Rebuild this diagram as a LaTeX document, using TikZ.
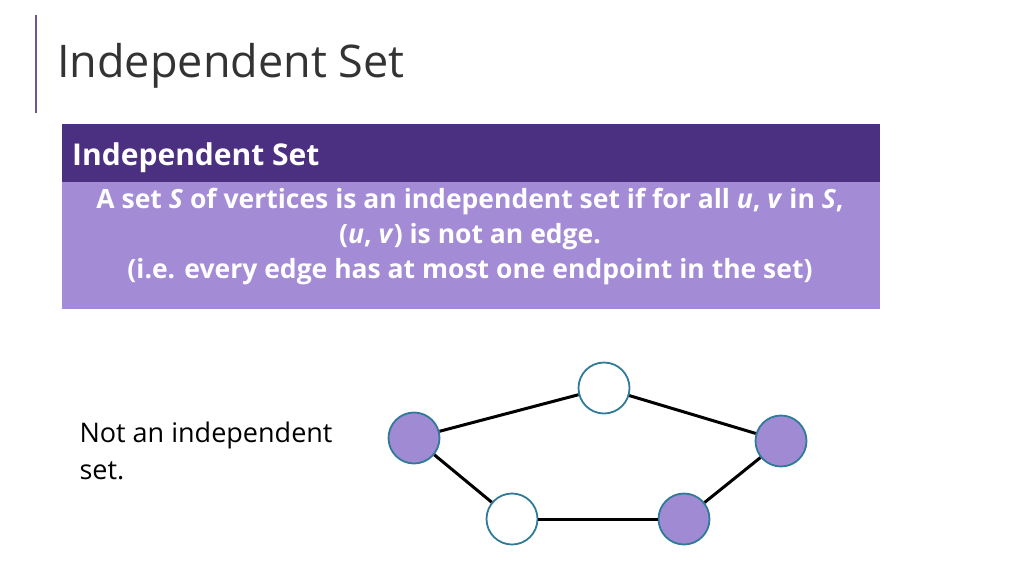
\documentclass[tikz,border=0pt]{standalone}
\usepackage{fontspec}
\setmainfont{Open Sans}
\usepackage{tikz}

\definecolor{hdpurple}{HTML}{4B2F80}
\definecolor{bdpurple}{HTML}{A48BD5}
\definecolor{vxpurple}{HTML}{A08AD3}
\definecolor{vxborder}{HTML}{2F7A99}
\definecolor{barcol}{HTML}{6A5A8A}

\tikzset{
  vertex/.style={circle, draw=vxborder, line width=1.8pt, minimum size=51pt, inner sep=0pt},
  vin/.style={vertex, fill=vxpurple},
  vout/.style={vertex, fill=white},
  edge/.style={line width=3pt, black}
}

\begin{document}
\begin{tikzpicture}[x=1pt, y=-1pt]

  \useasboundingbox (0, 0) rectangle (1024, 576);

  \draw[barcol, line width=1.5pt] (36, 15) -- (36, 113);
  \node[anchor=base west, inner sep=0pt, font=\fontsize{45}{54}\selectfont, text=black!80] (title) at (57, 77) {Independent Set};

  \fill[hdpurple] (62, 124) rectangle (880, 182);
  \fill[bdpurple] (62, 182) rectangle (880, 309);
  \node[anchor=base west, inner sep=0pt, font=\fontsize{30}{36}\selectfont\bfseries, text=white] (head) at (72, 165) {Independent Set};
  \node[align=center, text=white, font=\fontsize{26.5}{35}\selectfont\bfseries] (def) at (470, 237)
    {A set \textit{S} of vertices is an independent set if for all \textit{u}, \textit{v} in \textit{S},\\
     (\textit{u}, \textit{v}) is not an edge.\\
     (i.e. every edge has at most one endpoint in the set)};

  \node[anchor=north west, align=left, font=\fontsize{27}{37}\selectfont] (note) at (76, 418) {Not an independent\\set.};

  % graph
  \node[vout] (top) at (604, 388) {};
  \node[vin] (left) at (414, 438) {};
  \node[vin] (right) at (781, 441) {};
  \node[vout] (bl) at (512, 519) {};
  \node[vin] (br) at (684, 519) {};

  \draw[edge] (left) -- (top);
  \draw[edge] (top) -- (right);
  \draw[edge] (left) -- (bl);
  \draw[edge] (bl) -- (br);
  \draw[edge] (br) -- (right);

\end{tikzpicture}
\end{document}
